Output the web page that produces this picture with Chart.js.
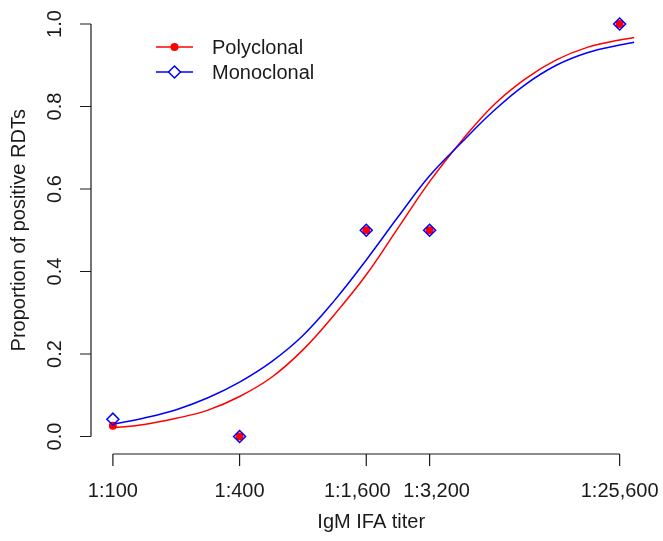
<!DOCTYPE html>
<html>
<head>
<meta charset="utf-8">
<script src="https://cdn.jsdelivr.net/npm/chart.js@4/dist/chart.umd.min.js"></script>
<style>
 html,body{margin:0;padding:0;background:#fff}
 #wrap{width:663px;height:541px}
</style>
</head>
<body>
<div id="wrap"><canvas id="chart" width="663" height="541"></canvas></div>
<script>
// observed proportions at each titer
const titers=[100,400,1600,3200,25600];
const tickLabels=['1:100','1:400','1:1,600','1:3,200','1:25,600'];
const polyObs=[0.026,0,0.5,0.5,1];
const monoObs=[0.042,0,0.5,0.5,1];
const yTicks=[0,0.2,0.4,0.6,0.8,1];
const yTickLabels=['0.0','0.2','0.4','0.6','0.8','1.0'];

// fitted curves
const fitTiters=[100,141,200,283,400,566,800,1131,1600,2263,3200,4525,6400,9051,12800,18102,25600,30000];
const polyFit=[0.021,0.029,0.044,0.064,0.097,0.143,0.210,0.296,0.392,0.505,0.618,0.716,0.802,0.866,0.913,0.944,0.961,0.967];
const monoFit=[0.030,0.045,0.065,0.094,0.132,0.181,0.245,0.330,0.428,0.532,0.632,0.712,0.788,0.852,0.900,0.931,0.949,0.956];

const seriesNames=['Polyclonal','Monoclonal'];
const RED='#ff0000',BLUE='#0000ff',INK='#1a1a1a';
const FONT='20px "Liberation Sans", Arial, sans-serif';
// the two crowded middle labels are nudged apart, as in the original
const labelNudge=[0,0,-9,7,0];

const pts=(xs,ys)=>xs.map((x,i)=>({x:x,y:ys[i]}));

// R-style axes and legend
const rAxes={
 id:'rAxes',
 afterDraw(c){
  const ctx=c.ctx,xs=c.scales.x,ys=c.scales.y,a=c.chartArea;
  ctx.save();
  ctx.strokeStyle=INK;ctx.fillStyle=INK;ctx.lineWidth=1.2;ctx.font=FONT;
  // y axis
  const ax=a.left;
  ctx.beginPath();
  ctx.moveTo(ax,ys.getPixelForValue(yTicks[0]));
  ctx.lineTo(ax,ys.getPixelForValue(yTicks[yTicks.length-1]));
  yTicks.forEach(v=>{const p=ys.getPixelForValue(v);ctx.moveTo(ax,p);ctx.lineTo(ax-11,p)});
  ctx.stroke();
  ctx.textAlign='center';ctx.textBaseline='middle';
  yTicks.forEach((v,i)=>{
   ctx.save();ctx.translate(55,ys.getPixelForValue(v));ctx.rotate(-Math.PI/2);
   ctx.fillText(yTickLabels[i],0,0);ctx.restore();
  });
  ctx.save();ctx.translate(19,(a.top+a.bottom)/2);ctx.rotate(-Math.PI/2);
  ctx.fillText('Proportion of positive RDTs',0,0);ctx.restore();
  // x axis
  const ay=a.bottom+1;
  ctx.beginPath();
  ctx.moveTo(xs.getPixelForValue(titers[0]),ay);
  ctx.lineTo(xs.getPixelForValue(titers[titers.length-1]),ay);
  titers.forEach(v=>{const p=xs.getPixelForValue(v);ctx.moveTo(p,ay);ctx.lineTo(p,ay+12)});
  ctx.stroke();
  titers.forEach((v,i)=>ctx.fillText(tickLabels[i],xs.getPixelForValue(v)+labelNudge[i],491));
  ctx.fillText('IgM IFA titer',(a.left+a.right)/2-2,522);
  // legend
  ctx.textAlign='left';
  [[RED,47],[BLUE,72]].forEach(([col,y],i)=>{
   ctx.strokeStyle=col;ctx.lineWidth=1.5;
   ctx.beginPath();ctx.moveTo(156,y);ctx.lineTo(193,y);ctx.stroke();
   const cx=174.5;
   ctx.beginPath();
   if(i==0){ctx.fillStyle=col;ctx.arc(cx,y,4,0,Math.PI*2);ctx.fill();}
   else{ctx.fillStyle='#fff';ctx.moveTo(cx,y-6);ctx.lineTo(cx+6,y);ctx.lineTo(cx,y+6);ctx.lineTo(cx-6,y);ctx.closePath();ctx.fill();ctx.stroke();}
   ctx.fillStyle=INK;ctx.fillText(seriesNames[i],212,y+1);
  });
  ctx.restore();
 }
};

new Chart(document.getElementById('chart'),{
 type:'line',
 data:{datasets:[
  {label:seriesNames[0]+' fit',data:pts(fitTiters,polyFit),borderColor:RED,borderWidth:1.5,pointRadius:0,tension:0.4,order:3},
  {label:seriesNames[1]+' fit',data:pts(fitTiters,monoFit),borderColor:BLUE,borderWidth:1.5,pointRadius:0,tension:0.4,order:2},
  {label:seriesNames[0],data:pts(titers,polyObs),showLine:false,pointStyle:'circle',pointRadius:4,backgroundColor:RED,borderColor:RED,borderWidth:0,order:1},
  {label:seriesNames[1],data:pts(titers,monoObs),showLine:false,pointStyle:'rectRot',pointRadius:6,backgroundColor:'rgba(0,0,0,0)',borderColor:BLUE,borderWidth:1.5,order:0}
 ]},
 options:{
  responsive:false,animation:false,
  layout:{padding:{left:91,right:5,top:7,bottom:88}},
  plugins:{legend:{display:false},tooltip:{enabled:false}},
  scales:{
   x:{type:'logarithmic',min:78.7,max:37900,display:false},
   y:{type:'linear',min:-0.04,max:1.04,display:false}
  }
 },
 plugins:[rAxes]
});
</script>
</body>
</html>
